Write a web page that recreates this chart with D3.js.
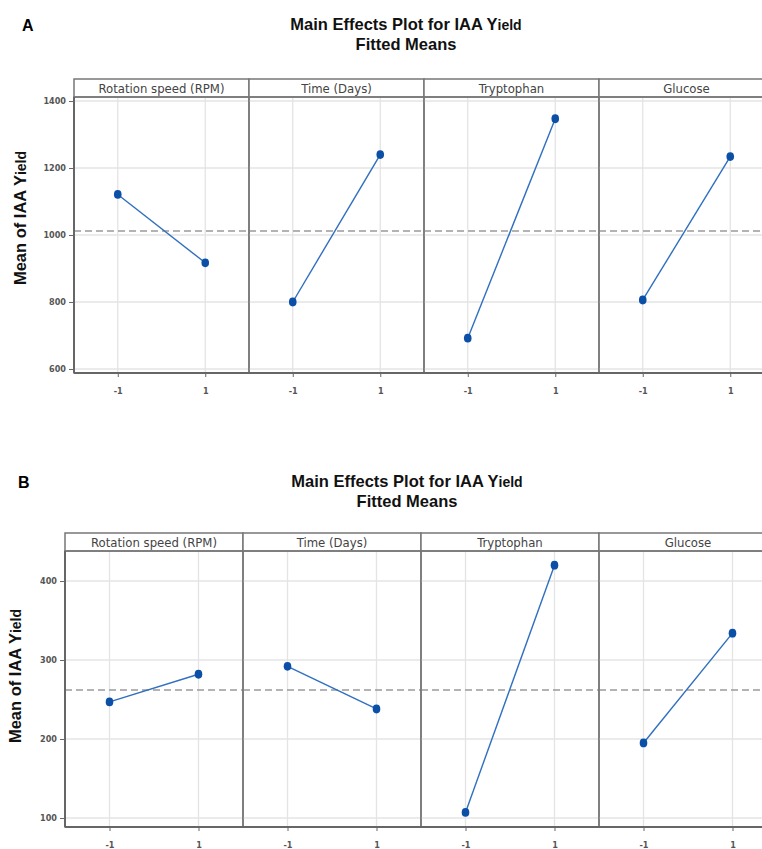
<!DOCTYPE html>
<html>
<head>
<meta charset="utf-8">
<script src="https://cdn.jsdelivr.net/npm/d3@7"></script>
<style>
  body { margin: 0; background: #fff; }
  svg { display: block; }
</style>
</head>
<body>
<div id="chart"></div>
<script>
// factors and coded levels
const factors = ['Rotation speed (RPM)', 'Time (Days)', 'Tryptophan', 'Glucose'];
const levels = [-1, 1];
const xTicks = ['-1', '1'];

// panel A fitted means (per factor: level -1, level 1)
const rotationA = [1121, 917];
const timeA = [800, 1240];
const tryptophanA = [692, 1347];
const glucoseA = [806, 1234];
const grandMeanA = 1012;
const yTicksA = [600, 800, 1000, 1200, 1400];

// panel B fitted means
const rotationB = [247, 282];
const timeB = [292, 238];
const tryptophanB = [107, 420];
const glucoseB = [195, 334];
const grandMeanB = 262;
const yTicksB = [100, 200, 300, 400];

const W = 762, H = 849;
const svg = d3.select('#chart').append('svg')
  .attr('width', W)
  .attr('height', H);

function drawPlot(cfg) {
  const g = svg.append('g');
  const panelW = cfg.panelW;
  const totalW = panelW * factors.length;

  // y scale shared by all panels
  const y = d3.scaleLinear().domain(cfg.yDomain).range([cfg.bottom, cfg.top]);

  // 标题
  g.append('text')
    .attr('x', cfg.letterX).attr('y', cfg.letterY)
    .attr('font-family', 'Liberation Sans, Arial, sans-serif')
    .attr('font-weight', 'bold').attr('font-size', 16)
    .text(cfg.letter);

  const t1 = g.append('text')
    .attr('x', cfg.titleX).attr('y', cfg.titleY)
    .attr('text-anchor', 'middle')
    .attr('font-family', 'Liberation Sans, Arial, sans-serif')
    .attr('font-weight', 'bold').attr('font-size', 16.5)
    .attr('fill', '#111');
  t1.append('tspan').text('Main Effects Plot for IAA Y');
  t1.append('tspan').attr('font-size', 14).text('ield');
  g.append('text')
    .attr('x', cfg.titleX).attr('y', cfg.titleY + 20)
    .attr('text-anchor', 'middle')
    .attr('font-family', 'Liberation Sans, Arial, sans-serif')
    .attr('font-weight', 'bold').attr('font-size', 16.5)
    .attr('fill', '#111')
    .text('Fitted Means');

  // y axis label
  const yl = g.append('text')
    .attr('transform', `translate(${cfg.yLabelX},${cfg.yLabelY}) rotate(-90)`)
    .attr('text-anchor', 'middle')
    .attr('font-family', 'Liberation Sans, Arial, sans-serif')
    .attr('font-weight', 'bold').attr('font-size', 16.5)
    .attr('fill', '#111');
  yl.append('tspan').text('Mean of IAA Y');
  yl.append('tspan').attr('font-size', 14).text('ield');

  // y axis
  const yAxis = d3.axisLeft(y).tickValues(cfg.yTicks)
    .tickFormat(d3.format('d')).tickSize(5).tickPadding(3);
  const ya = g.append('g')
    .attr('transform', `translate(${cfg.left},0)`)
    .call(yAxis);
  ya.select('.domain').remove();
  ya.selectAll('line').attr('stroke', '#666');
  ya.selectAll('text')
    .attr('font-family', 'DejaVu Sans Condensed, DejaVu Sans, sans-serif')
    .attr('font-weight', 'bold').attr('font-size', 9).attr('fill', '#555');

  factors.forEach((f, i) => {
    const x0 = cfg.left + i * panelW;
    const x = d3.scaleLinear().domain([-2, 2]).range([x0, x0 + panelW]);
    const pg = g.append('g');

    // gridlines
    pg.selectAll('.hg').data(cfg.yTicks).enter().append('line')
      .attr('x1', x0).attr('x2', x0 + panelW)
      .attr('y1', d => y(d)).attr('y2', d => y(d))
      .attr('stroke', '#e4e4e4').attr('stroke-width', 1.3);
    pg.selectAll('.vg').data(levels).enter().append('line')
      .attr('x1', d => x(d)).attr('x2', d => x(d))
      .attr('y1', cfg.top).attr('y2', cfg.bottom)
      .attr('stroke', '#e4e4e4').attr('stroke-width', 1.3);

    // x axis ticks
    const xAxis = d3.axisBottom(x).tickValues(levels)
      .tickFormat((d, k) => xTicks[k]).tickSize(4).tickPadding(11);
    const xa = pg.append('g')
      .attr('transform', `translate(0,${cfg.bottom})`)
      .call(xAxis);
    xa.select('.domain').remove();
    xa.selectAll('line').attr('stroke', '#666');
    xa.selectAll('text')
      .attr('font-family', 'DejaVu Sans Condensed, DejaVu Sans, sans-serif')
      .attr('font-weight', 'bold').attr('font-size', 9).attr('fill', '#555');

    // grand mean reference
    pg.append('line')
      .attr('x1', x0).attr('x2', x0 + panelW)
      .attr('y1', y(cfg.grandMean)).attr('y2', y(cfg.grandMean))
      .attr('stroke', '#9a9a9a').attr('stroke-width', 1.6)
      .attr('stroke-dasharray', '7,4');

    // means line + points
    const vals = cfg.means[i];
    const pts = levels.map((l, k) => ({ l: l, v: vals[k] }));
    pg.append('path')
      .datum(pts)
      .attr('d', d3.line().x(d => x(d.l)).y(d => y(d.v)))
      .attr('fill', 'none')
      .attr('stroke', '#2f6fc0')
      .attr('stroke-width', 1.4);
    pg.selectAll('ellipse').data(pts).enter().append('ellipse')
      .attr('cx', d => x(d.l)).attr('cy', d => y(d.v))
      .attr('rx', 3.8).attr('ry', 4.4)
      .attr('fill', '#0b4fa6');

    // strip
    pg.append('rect')
      .attr('x', x0).attr('y', cfg.stripTop)
      .attr('width', panelW).attr('height', cfg.top - cfg.stripTop)
      .attr('fill', '#fff')
      .attr('stroke', '#777').attr('stroke-width', 1.5);
    pg.append('text')
      .attr('x', x0 + panelW / 2).attr('y', cfg.top - 4)
      .attr('text-anchor', 'middle')
      .attr('font-family', 'DejaVu Sans Condensed, DejaVu Sans, sans-serif')
      .attr('font-size', 13).attr('fill', '#444')
      .text(f);

    // panel frame
    pg.append('rect')
      .attr('x', x0).attr('y', cfg.top)
      .attr('width', panelW).attr('height', cfg.bottom - cfg.top)
      .attr('fill', 'none')
      .attr('stroke', '#777').attr('stroke-width', 1.5);
  });

  // outer axis lines
  g.append('line')
    .attr('x1', cfg.left).attr('x2', cfg.left + totalW)
    .attr('y1', cfg.bottom).attr('y2', cfg.bottom)
    .attr('stroke', '#666').attr('stroke-width', 2);
  g.append('line')
    .attr('x1', cfg.left).attr('x2', cfg.left)
    .attr('y1', cfg.top).attr('y2', cfg.bottom)
    .attr('stroke', '#666').attr('stroke-width', 2);
}

drawPlot({
  letter: 'A', letterX: 22, letterY: 31,
  titleX: 406, titleY: 30,
  yLabelX: 26, yLabelY: 218,
  left: 74, panelW: 175,
  stripTop: 79, top: 97, bottom: 373,
  yDomain: [588, 1412],
  yTicks: yTicksA,
  grandMean: grandMeanA,
  means: [rotationA, timeA, tryptophanA, glucoseA]
});

drawPlot({
  letter: 'B', letterX: 18, letterY: 488,
  titleX: 407, titleY: 487,
  yLabelX: 21, yLabelY: 676,
  left: 65, panelW: 178,
  stripTop: 533, top: 551, bottom: 827,
  yDomain: [88.6, 438],
  yTicks: yTicksB,
  grandMean: grandMeanB,
  means: [rotationB, timeB, tryptophanB, glucoseB]
});
</script>
</body>
</html>
